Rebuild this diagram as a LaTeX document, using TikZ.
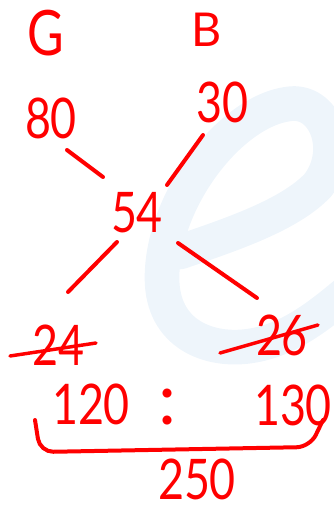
\documentclass[tikz,border=0pt]{standalone}
\usepackage{fontspec}
\setmainfont{Lato}
\usepackage{xcolor}
\usepackage{graphicx}
\definecolor{cInk}{HTML}{FF0000}
\definecolor{cMark}{HTML}{EEF5FB}
\usetikzlibrary{calc}
\newcommand{\handnum}[1]{\scalebox{0.8}[1]{#1}}
\tikzset{
  num-big/.style={text=cInk,inner sep=0pt,font=\fontsize{42}{42}\selectfont},
  num-head/.style={text=cInk,inner sep=0pt},
  ink-line/.style={draw=cInk,line width=3pt,line cap=round},
  ink-strike/.style={draw=cInk,line width=2.6pt,line cap=round},
  water-mark/.style={draw=cMark,line width=26pt,line cap=round},
}

\begin{document}
\begin{tikzpicture}[x=0.75pt,y=-0.75pt]
  \useasboundingbox (0,0) rectangle (334,512);
  % watermark behind everything
  \draw[water-mark] (180,252) .. controls (230,235) and (290,215) .. (318,185)
    .. controls (345,150) and (325,98) .. (288,104)
    .. controls (230,112) and (162,200) .. (162,278)
    .. controls (162,335) and (210,352) .. (250,346)
    .. controls (290,340) and (320,315) .. (350,290);

  \node[num-head,font=\fontsize{47}{47}\selectfont] (g) at (46,33) {\handnum{G}};
  \node[num-head,font=\fontsize{35}{35}\selectfont] (b) at (207,30) {B};
  \node[num-big] (n80) at (51,118) {\handnum{80}};
  \node[num-big] (n30) at (222,102) {\handnum{30}};
  \node[num-big] (n54) at (137,213) {\handnum{54}};
  \node[num-big] (n24) at (58,345) {\handnum{24}};
  \node[num-big] (n26) at (282,335) {\handnum{26}};
  \node[num-big] (n120) at (91,404) {\handnum{120}};
  \node[num-big,font=\fontsize{54}{54}\selectfont] (colon) at (167,407) {:};
  \node[num-big] (n130) at (293,405) {\handnum{130}};
  \node[num-big] (n250) at (197,479) {\handnum{250}};

  \draw[ink-line] ([shift={(16,32)}]n80.center) -- ([shift={(-34,-36)}]n54.center);
  \draw[ink-line] ([shift={(-19,33)}]n30.center) -- ([shift={(30,-28)}]n54.center);
  \draw[ink-line] ([shift={(-20,29)}]n54.center) -- ([shift={(10,-53)}]n24.center);
  \draw[ink-line] ([shift={(41,30)}]n54.center) -- ([shift={(-25,-37)}]n26.center);

  % crossed out
  \draw[ink-strike] ($(n24)+(-48,11)$) -- ($(n24)+(38,-2)$);
  \draw[ink-strike] ($(n26)+(-62,18)$) -- ($(n26)+(36,-10)$);

  % total bracket
  \draw[ink-line,rounded corners=10pt] ($(n120)+(-56,16)$) -- ($(n120)+(-51,48)$)
    -- ($(n130)+(17,42)$) -- ($(n130)+(30,15)$);
\end{tikzpicture}
\end{document}
